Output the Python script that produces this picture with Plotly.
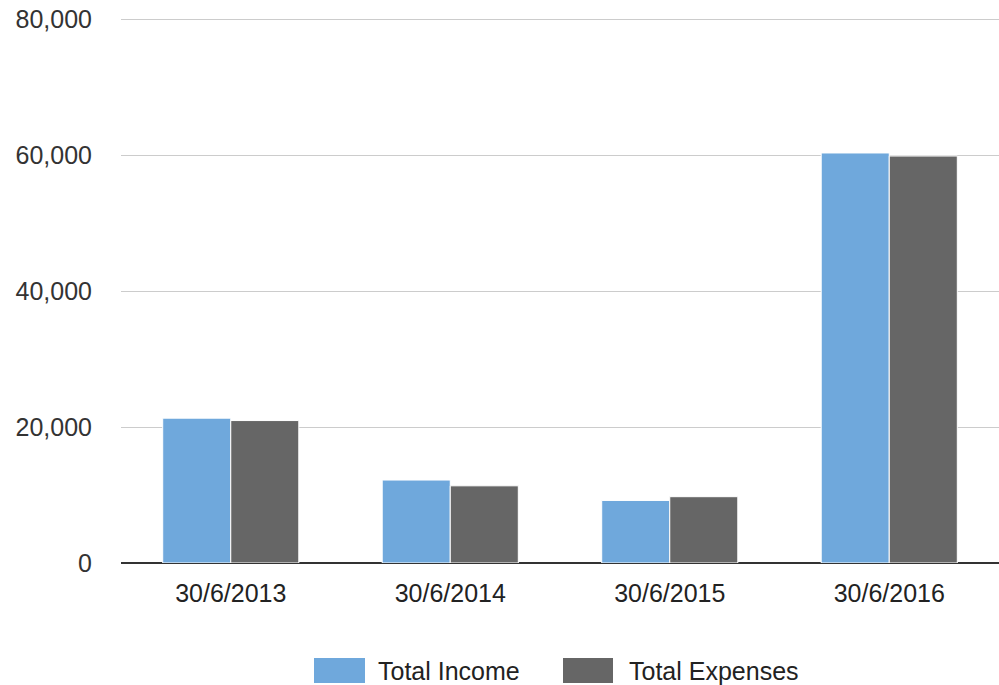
import plotly.graph_objects as go

categories = ["30/6/2013", "30/6/2014", "30/6/2015", "30/6/2016"]
series_names = ["Total Income", "Total Expenses"]
income = [21300, 12200, 9200, 60300]
expenses = [20950, 11350, 9750, 59850]
colors = ["#6fa8dc", "#666666"]
y_ticks = [0, 20000, 40000, 60000, 80000]
y_top = 80150

W, H = 999, 685
L, R, T, B = 121, 0, 18, 122
pw, ph = W - L - R, H - T - B

def px(x):
    return (x - L) / pw

def py(y):
    return (H - B - y) / ph

fig = go.Figure()
for name, vals, col in zip(series_names, [income, expenses], colors):
    fig.add_trace(go.Bar(
        x=categories, y=vals, name=name,
        marker=dict(color=col, line=dict(color="white", width=1)),
        showlegend=False,
    ))

font = "Liberation Sans, Arial, Helvetica, sans-serif"

# custom legend swatches
legend_pos = [(314, 365, 376), (563, 613, 627)]
for (x0, x1, tx), name, col in zip(legend_pos, series_names, colors):
    fig.add_shape(type="rect", xref="paper", yref="paper",
                  x0=px(x0), x1=px(x1), y0=py(683), y1=py(658),
                  fillcolor=col, line=dict(width=0))
    fig.add_annotation(xref="paper", yref="paper", x=px(tx), y=py(670.5),
                       text=name, showarrow=False, xanchor="left", yanchor="middle",
                       font=dict(family=font, size=25, color="#222222"))

fig.update_layout(
    width=W, height=H,
    margin=dict(l=L, r=R, t=T, b=B, pad=0),
    paper_bgcolor="white", plot_bgcolor="white",
    barmode="group", bargap=0.38, bargroupgap=0.0,
    font=dict(family=font, size=25, color="#333333"),
    xaxis=dict(showgrid=False, showline=False, ticks="", ticklabelstandoff=13,
               tickfont=dict(size=25, color="#222222")),
    yaxis=dict(range=[0, y_top], tickvals=y_ticks, tickformat=",d",
               showgrid=True, gridcolor="#cccccc", gridwidth=1,
               zeroline=True, zerolinecolor="#333333", zerolinewidth=1.5,
               showline=False, ticks="", ticklabelstandoff=28,
               tickfont=dict(size=25, color="#333333")),
)

fig.write_html("out.html", config={"displayModeBar": False},
               post_script="document.body.style.margin='0';document.body.style.overflow='hidden';")
